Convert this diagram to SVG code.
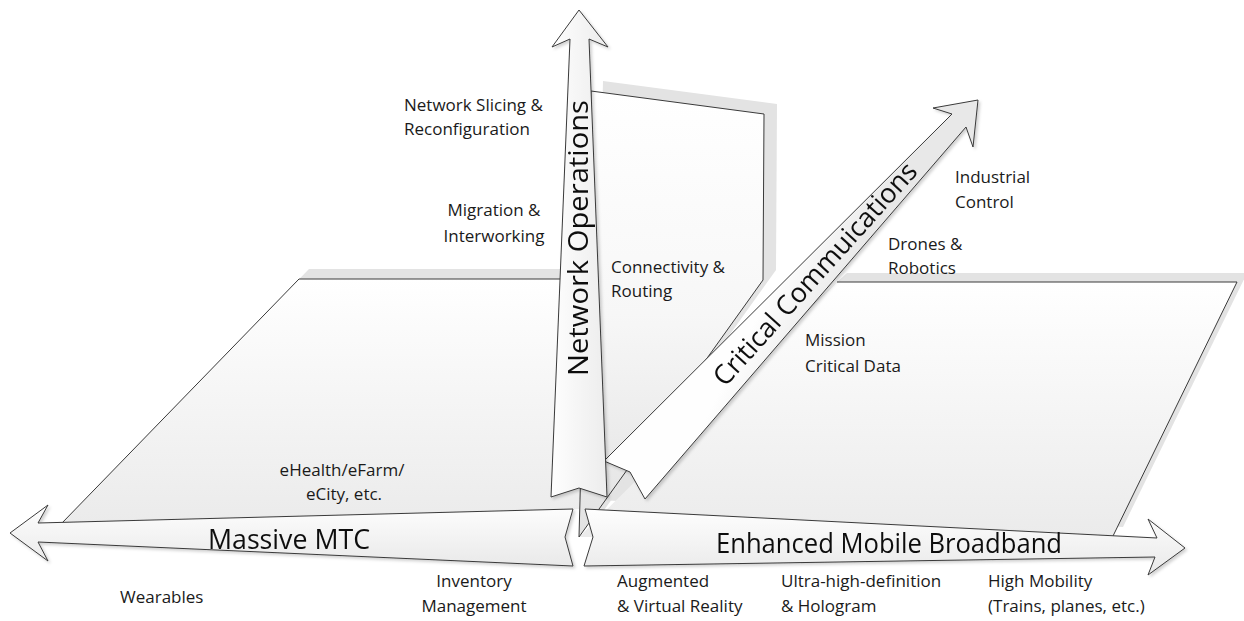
<svg xmlns="http://www.w3.org/2000/svg" width="1244" height="621" viewBox="0 0 1244 621">
<style>
.edge{fill:none;stroke:#3a3a3a;stroke-width:1}
.shd{fill:#e3e3e3}
.arr{stroke:#3a3a3a;stroke-width:1;stroke-linejoin:miter}
.lbl{font-family:"Open Sans","Liberation Sans",sans-serif;font-size:17px;fill:#1a1a1a}
.big{font-family:"Open Sans","Liberation Sans",sans-serif;font-size:27px;fill:#111}
</style>
<defs>
<linearGradient id="gLF" gradientUnits="userSpaceOnUse" x1="0" y1="279" x2="0" y2="523"><stop offset="0" stop-color="#ffffff"/><stop offset="1" stop-color="#ebebeb"/></linearGradient>
<linearGradient id="gRF" gradientUnits="userSpaceOnUse" x1="0" y1="282" x2="0" y2="536"><stop offset="0" stop-color="#ffffff"/><stop offset="1" stop-color="#ebebeb"/></linearGradient>
<linearGradient id="gW" gradientUnits="userSpaceOnUse" x1="0" y1="91" x2="0" y2="537"><stop offset="0" stop-color="#ffffff"/><stop offset="0.5" stop-color="#f7f7f7"/><stop offset="1" stop-color="#e2e2e2"/></linearGradient>
<linearGradient id="gH" x1="0" y1="0" x2="0" y2="1"><stop offset="0" stop-color="#fefefe"/><stop offset="1" stop-color="#e9e9e9"/></linearGradient>
<linearGradient id="gV" x1="0" y1="0" x2="1" y2="0"><stop offset="0" stop-color="#fefefe"/><stop offset="1" stop-color="#ececec"/></linearGradient>
<linearGradient id="gC" gradientUnits="userSpaceOnUse" x1="780" y1="270" x2="840" y2="300"><stop offset="0" stop-color="#fefefe"/><stop offset="1" stop-color="#e8e8e8"/></linearGradient>
<filter id="ds" x="-10%" y="-10%" width="120%" height="120%"><feDropShadow dx="2" dy="2" stdDeviation="1.5" flood-color="#000" flood-opacity="0.18"/></filter>
</defs>

<g id="right-floor">
<polygon class="shd" points="847,273 1247,273 1123,527 598,500"/>
<polygon fill="url(#gRF)" points="837,282 1237,282 1113,536 579,537"/>
<polyline class="edge" points="837,282 1237,282 1113,536"/>
</g>

<g id="left-floor">
<polygon class="shd" points="309,269 600,269 589,499 72,513"/>
<polygon fill="url(#gLF)" points="299,279 590,279 579,509 62,523"/>
<polyline class="edge" points="62,523 299,279 590,279"/>
</g>

<g id="back-wall">
<polygon class="shd" points="603,81 777,104 776,270 592,527"/>
<polygon class="edge" style="fill:url(#gW)" points="591,91 764,114 763,280 579,537"/>
</g>

<g id="connectors">
<g id="massive-mtc" filter="url(#ds)">
<polygon class="arr" fill="url(#gH)" points="10,533 48,505 38,523 573,509 565,537 573,566 38,542 48,561"/>
<text class="big" x="208" y="549" textLength="162" lengthAdjust="spacingAndGlyphs">Massive MTC</text>
</g>
<g id="embb" filter="url(#ds)">
<polygon class="arr" fill="url(#gH)" points="585,509 1157,538 1148,519 1185,548 1148,575 1155,557 584,566 593,537"/>
<text class="big" x="716" y="553" textLength="346" lengthAdjust="spacingAndGlyphs">Enhanced Mobile Broadband</text>
</g>
<g id="critical" filter="url(#ds)">
<polygon class="arr" fill="url(#gC)" points="978,100 973,147 966,127 645,499 630,472 604,461 952,114 933,108"/>
<text class="big" transform="translate(822,280) rotate(-48)" x="0" y="0" text-anchor="middle">Critical Commuications</text>
</g>
<g id="network-ops" filter="url(#ds)">
<polygon class="arr" fill="url(#gV)" points="579,10 608,47 589,39 607,497 579,488 551,497 570,39 552,47"/>
<text class="big" transform="translate(588,376) rotate(-90)" x="0" y="0" textLength="276" lengthAdjust="spacingAndGlyphs">Network Operations</text>
</g>
</g>

<g id="labels">
<text class="lbl" x="404" y="111">Network Slicing &amp;</text>
<text class="lbl" x="404" y="135">Reconfiguration</text>
<text class="lbl" x="494" y="216" text-anchor="middle">Migration &amp;</text>
<text class="lbl" x="494" y="242" text-anchor="middle">Interworking</text>
<text class="lbl" x="611" y="273">Connectivity &amp;</text>
<text class="lbl" x="611" y="297">Routing</text>
<text class="lbl" x="955" y="183">Industrial</text>
<text class="lbl" x="955" y="208">Control</text>
<text class="lbl" x="888" y="250">Drones &amp;</text>
<text class="lbl" x="888" y="274">Robotics</text>
<text class="lbl" x="805" y="346">Mission</text>
<text class="lbl" x="805" y="372">Critical Data</text>
<text class="lbl" x="342" y="476" text-anchor="middle">eHealth/eFarm/</text>
<text class="lbl" x="344" y="500" text-anchor="middle">eCity, etc.</text>
<text class="lbl" x="120" y="603">Wearables</text>
<text class="lbl" x="474" y="587" text-anchor="middle">Inventory</text>
<text class="lbl" x="474" y="612" text-anchor="middle">Management</text>
<text class="lbl" x="617" y="587">Augmented</text>
<text class="lbl" x="617" y="612">&amp; Virtual Reality</text>
<text class="lbl" x="781" y="587">Ultra-high-definition</text>
<text class="lbl" x="781" y="612">&amp; Hologram</text>
<text class="lbl" x="988" y="587">High Mobility</text>
<text class="lbl" x="988" y="612">(Trains, planes, etc.)</text>
</g>
</svg>
